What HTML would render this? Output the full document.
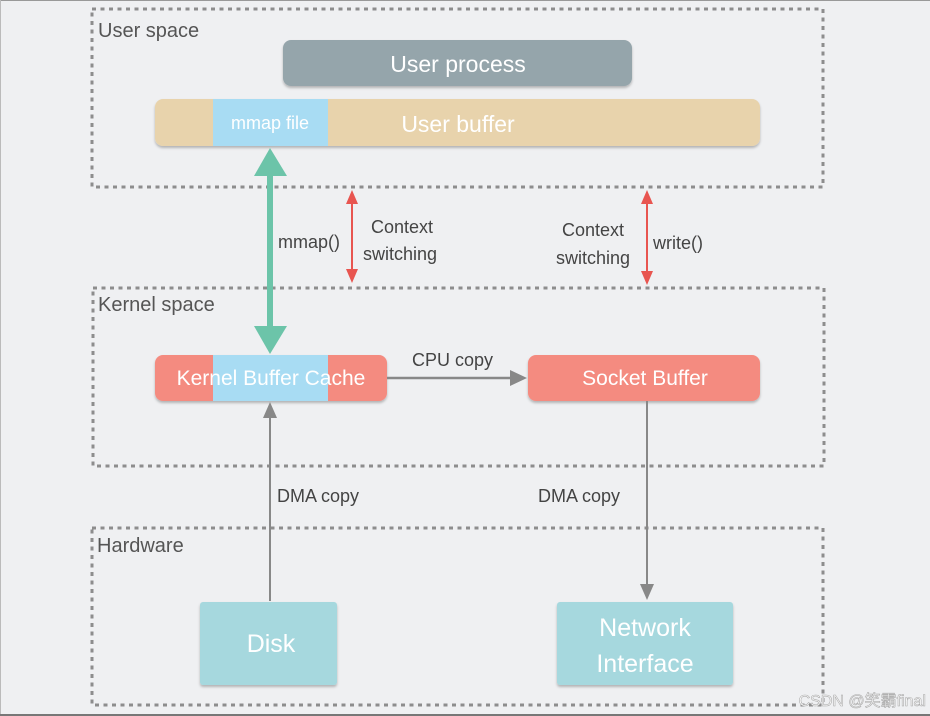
<!DOCTYPE html>
<html><head><meta charset="utf-8"><style>
html,body{margin:0;padding:0;background:#eff0f2;}
svg{display:block;font-family:"Liberation Sans","Noto Sans CJK SC",sans-serif;}
</style></head><body>
<svg width="930" height="716" viewBox="0 0 930 716" xmlns="http://www.w3.org/2000/svg">
<defs>
<filter id="sh" x="-5%" y="-20%" width="110%" height="150%"><feDropShadow dx="0" dy="2" stdDeviation="1.2" flood-color="#000" flood-opacity="0.25"/></filter>
</defs>
<rect width="930" height="716" fill="#eff0f2"/>
<line x1="0" y1="0.5" x2="930" y2="0.5" stroke="#999" stroke-width="1"/>
<line x1="0.5" y1="0" x2="0.5" y2="716" stroke="#bbb" stroke-width="1"/>
<line x1="0" y1="715" x2="930" y2="715" stroke="#777" stroke-width="2"/>
<g fill="none" stroke="#8d8d8d" stroke-width="3" stroke-dasharray="4,4.5">
<rect x="92" y="9" width="731" height="178"/>
<rect x="93" y="288" width="731" height="178"/>
<rect x="92" y="528" width="731" height="177"/>
</g>
<g fill="#555" font-size="20">
<text x="98" y="37">User space</text>
<text x="98" y="311">Kernel space</text>
<text x="97" y="552">Hardware</text>
</g>
<rect x="283" y="40" width="349" height="46" rx="8" fill="#95a5ab" filter="url(#sh)"/>
<text x="458" y="72" fill="#fff" font-size="23" text-anchor="middle">User process</text>
<rect x="155" y="99" width="605" height="47" rx="8" fill="#e8d3ac" filter="url(#sh)"/>
<rect x="213" y="99" width="115" height="47" fill="#a8dcf3"/>
<text x="270" y="129" fill="#fff" font-size="18" text-anchor="middle">mmap file</text>
<text x="458" y="132" fill="#fff" font-size="23" text-anchor="middle">User buffer</text>
<rect x="155" y="355" width="232" height="46" rx="8" fill="#f48b80" filter="url(#sh)"/>
<rect x="213" y="355" width="115" height="46" fill="#a8dcf3"/>
<text x="271" y="385" fill="#fff" font-size="21" text-anchor="middle">Kernel Buffer Cache</text>
<rect x="528" y="355" width="232" height="46" rx="8" fill="#f48b80" filter="url(#sh)"/>
<text x="645" y="385" fill="#fff" font-size="21" text-anchor="middle">Socket Buffer</text>
<rect x="200" y="602" width="137" height="83" rx="3" fill="#a6d8de" filter="url(#sh)"/>
<text x="271" y="652" fill="#fff" font-size="25" text-anchor="middle">Disk</text>
<rect x="557" y="602" width="176" height="83" rx="3" fill="#a6d8de" filter="url(#sh)"/>
<text x="645" y="636" fill="#fff" font-size="25" text-anchor="middle">Network</text>
<text x="645" y="672" fill="#fff" font-size="25" text-anchor="middle">Interface</text>
<!-- green arrow -->
<rect x="267" y="170" width="6" height="158" fill="#6cc4a9"/>
<polygon points="270,148 254,176 287,176" fill="#6cc4a9"/>
<polygon points="270,354 254,326 287,326" fill="#6cc4a9"/>
<text x="278" y="248" fill="#444" font-size="18">mmap()</text>
<!-- red arrows -->
<g fill="#e85550" stroke="#e85550">
<line x1="352" y1="200" x2="352" y2="275" stroke-width="2"/>
<polygon points="352,190 346,204 358,204" stroke="none"/>
<polygon points="352,283 346,269 358,269" stroke="none"/>
<line x1="647" y1="200" x2="647" y2="276" stroke-width="2"/>
<polygon points="647,190 641,204 653,204" stroke="none"/>
<polygon points="647,285 641,271 653,271" stroke="none"/>
</g>
<g fill="#444" font-size="18">
<text x="371" y="233">Context</text>
<text x="363" y="260">switching</text>
<text x="562" y="236">Context</text>
<text x="556" y="264">switching</text>
<text x="653" y="249">write()</text>
</g>
<!-- gray arrows -->
<g fill="#888" stroke="#888">
<line x1="270" y1="601" x2="270" y2="415" stroke-width="2"/>
<polygon points="270,402 263,418 277,418" stroke="none"/>
<line x1="387" y1="378" x2="512" y2="378" stroke-width="2.5"/>
<polygon points="527,378 510,370 510,386" stroke="none"/>
<line x1="647" y1="401" x2="647" y2="586" stroke-width="2"/>
<polygon points="647,600 640,584 654,584" stroke="none"/>
</g>
<g fill="#444" font-size="18">
<text x="412" y="366">CPU copy</text>
<text x="277" y="502">DMA copy</text>
<text x="538" y="502">DMA copy</text>
</g>
<text x="926" y="706" fill="#fff" stroke="#aaa" stroke-width="0.6" font-size="16" text-anchor="end">CSDN @笑霸final</text>
</svg>
</body></html>
